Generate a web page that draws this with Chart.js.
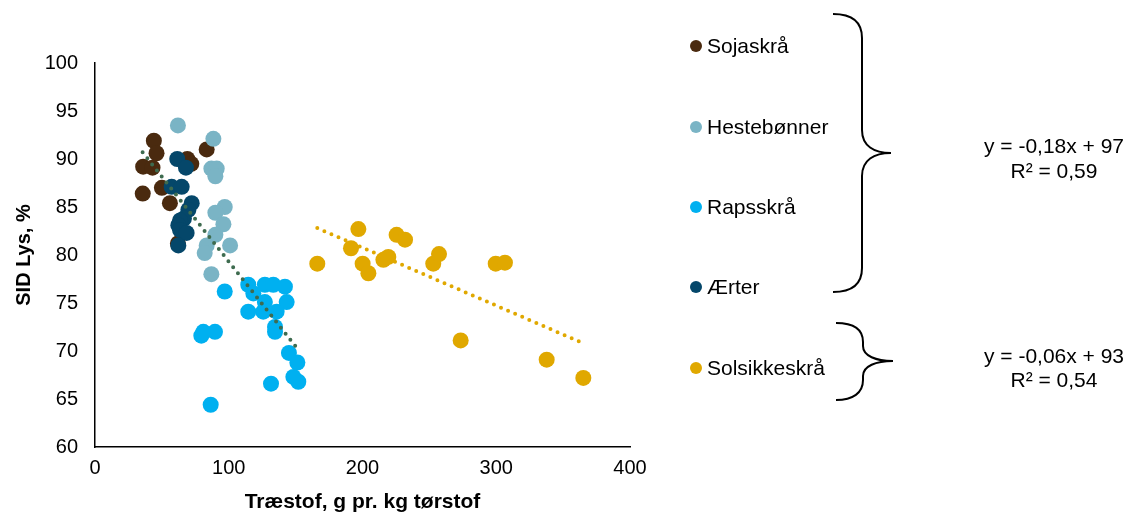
<!DOCTYPE html>
<html>
<head>
<meta charset="utf-8">
<script src="https://cdn.jsdelivr.net/npm/chart.js@4"></script>
<style>
  html, body { margin: 0; padding: 0; background: #fff; }
  #wrap { width: 1133px; height: 513px; position: relative; }
</style>
</head>
<body>
<div id="wrap"><canvas id="chart"></canvas></div>
<script>
// Serier: [træstof, SID Lys]
const sojaskraa = [[44, 91.9], [46, 90.6], [36, 89.2], [43, 89.1], [83.5, 91.0], [69, 90.0], [72, 89.5],
  [35.7, 86.4], [50, 87.0], [56, 85.4], [62, 81.2]];
const hestebonner = [[62, 93.5], [88.5, 92.1], [87, 89.0], [91, 89.0], [90, 88.2], [97, 85.0], [90, 84.4],
  [96, 83.2], [90, 82.1], [101, 81.0], [83.5, 81.0], [82, 80.2], [87, 78.0]];
const rapsskraa = [[97, 76.2], [114.6, 76.9], [118.4, 76.0], [127, 76.9], [133.3, 76.9], [142, 76.7],
  [127, 75.1], [143.3, 75.1], [114.6, 74.1], [125.8, 74.1], [135.8, 74.1], [134.6, 72.5], [134.6, 72.0],
  [81, 72.0], [79.5, 71.6], [89.7, 72.0], [145, 69.8], [151.3, 68.8], [148.3, 67.3], [152, 66.8],
  [131.6, 66.6], [86.5, 64.4]];
const aerter = [[61.5, 90.0], [68, 89.1], [57.3, 87.1], [64.8, 87.1], [72.3, 85.4], [69.8, 84.7],
  [66.5, 83.8], [63.6, 83.6], [62.3, 83.1], [63.6, 82.6], [68.5, 82.3], [62.3, 81.0]];
const solsikkeskraa = [[166.2, 79.1], [196.9, 82.7], [191.4, 80.7], [200.1, 79.1], [204.4, 78.1],
  [215.6, 79.5], [219.3, 79.8], [225.5, 82.1], [231.8, 81.6], [252.9, 79.1], [257.2, 80.1],
  [299.6, 79.1], [306.5, 79.2], [273.4, 71.1], [337.7, 69.1], [365.1, 67.2]];

// Tendenslinjer (endepunkter aflæst)
const trend1 = [[35.6, 90.7], [151, 70.3]];
const trend2 = [[166.2, 82.8], [365.1, 70.8]];

const seriesNames = ['Sojaskrå', 'Hestebønner', 'Rapsskrå', 'Ærter', 'Solsikkeskrå'];
const seriesColors = ['#4a2a0f', '#7ab4c5', '#00b0f0', '#05476a', '#e0a800'];
const equations = [['y = -0,18x + 97', 'R² = 0,59'], ['y = -0,06x + 93', 'R² = 0,54']];

const xTicks = [0, 100, 200, 300, 400];
const yTicks = [60, 65, 70, 75, 80, 85, 90, 95, 100];

const FONT = "'Liberation Sans', Arial, sans-serif";
const toXY = arr => arr.map(p => ({ x: p[0], y: p[1] }));

const seriesData = [sojaskraa, hestebonner, rapsskraa, aerter, solsikkeskraa];
const datasets = [];

// trendlinjer øverst
datasets.push({
  type: 'line', data: toXY(trend1), borderColor: '#3e6b4f', borderWidth: 4,
  borderDash: [0, 7.7], borderCapStyle: 'round', pointRadius: 0, order: 0, showLine: true,
});
datasets.push({
  type: 'line', data: toXY(trend2), borderColor: '#e0a800', borderWidth: 4,
  borderDash: [0, 7.7], borderCapStyle: 'round', pointRadius: 0, order: 0, showLine: true,
});
seriesData.forEach((s, i) => {
  datasets.push({
    label: seriesNames[i], data: toXY(s),
    backgroundColor: seriesColors[i], borderColor: seriesColors[i], borderWidth: 0,
    pointRadius: 8, order: 5 - i,
  });
});

// højre side: forklaring, klammer og ligninger
const sidePanel = {
  id: 'sidePanel',
  afterDraw(chart) {
    const ctx = chart.ctx;
    ctx.save();
    const legendY = [46, 127, 207, 287, 368];
    ctx.font = '21px ' + FONT;
    ctx.textBaseline = 'middle';
    ctx.textAlign = 'left';
    seriesNames.forEach((n, i) => {
      ctx.fillStyle = seriesColors[i];
      ctx.beginPath();
      ctx.arc(696, legendY[i], 6, 0, Math.PI * 2);
      ctx.fill();
      ctx.fillStyle = '#000';
      ctx.fillText(n, 707, legendY[i] + 1);
    });

    ctx.strokeStyle = '#000';
    ctx.lineWidth = 2;
    // stor klamme
    ctx.beginPath();
    ctx.moveTo(833, 14);
    ctx.bezierCurveTo(851, 14, 862, 21, 862, 38);
    ctx.lineTo(862, 130);
    ctx.bezierCurveTo(862, 146, 874, 153, 891, 153);
    ctx.bezierCurveTo(874, 153, 862, 160, 862, 176);
    ctx.lineTo(862, 268);
    ctx.bezierCurveTo(862, 285, 851, 292, 833, 292);
    ctx.stroke();
    // lille klamme
    ctx.beginPath();
    ctx.moveTo(836, 323);
    ctx.bezierCurveTo(853, 323, 863, 329, 863, 342);
    ctx.lineTo(863, 346);
    ctx.bezierCurveTo(863, 356, 876, 361, 893, 361);
    ctx.bezierCurveTo(876, 361, 863, 366, 863, 376);
    ctx.lineTo(863, 380);
    ctx.bezierCurveTo(863, 393, 853, 400, 836, 400);
    ctx.stroke();

    ctx.fillStyle = '#000';
    ctx.textAlign = 'center';
    const eqY = [[147, 172], [357, 381]];
    equations.forEach((eq, i) => {
      ctx.fillText(eq[0], 1054, eqY[i][0]);
      ctx.fillText(eq[1], 1054, eqY[i][1]);
    });
    ctx.restore();
  }
};

new Chart(document.getElementById('chart'), {
  type: 'scatter',
  data: { datasets },
  plugins: [sidePanel],
  options: {
    responsive: true,
    maintainAspectRatio: false,
    animation: false,
    layout: { padding: { left: 0, right: 503, top: 63, bottom: 0 } },
    plugins: {
      legend: { display: false },
      tooltip: { enabled: false },
    },
    scales: {
      x: {
        type: 'linear', min: 0, max: 400,
        afterBuildTicks: s => { s.ticks = xTicks.map(v => ({ value: v })); },
        afterFit: s => { s.height = 66; },
        grid: { display: false, drawTicks: false },
        border: { display: true, color: '#000', width: 1.5 },
        ticks: { color: '#000', padding: 9, font: { family: FONT, size: 20 } },
        title: { display: true, text: 'Træstof, g pr. kg tørstof', color: '#000',
          padding: { top: 8, bottom: 0 }, font: { family: FONT, size: 21, weight: 'bold', lineHeight: 1.0 } },
      },
      y: {
        type: 'linear', min: 60, max: 100,
        afterBuildTicks: s => { s.ticks = yTicks.map(v => ({ value: v })); },
        afterFit: s => { s.width = 95; },
        grid: { display: false, drawTicks: false },
        border: { display: true, color: '#000', width: 1.5 },
        ticks: { color: '#000', padding: 17, font: { family: FONT, size: 20 } },
        title: { display: true, text: 'SID Lys, %', color: '#000',
          padding: { top: 12, bottom: 4 }, font: { family: FONT, size: 20, weight: 'bold' } },
      },
    },
  },
});
</script>
</body>
</html>
